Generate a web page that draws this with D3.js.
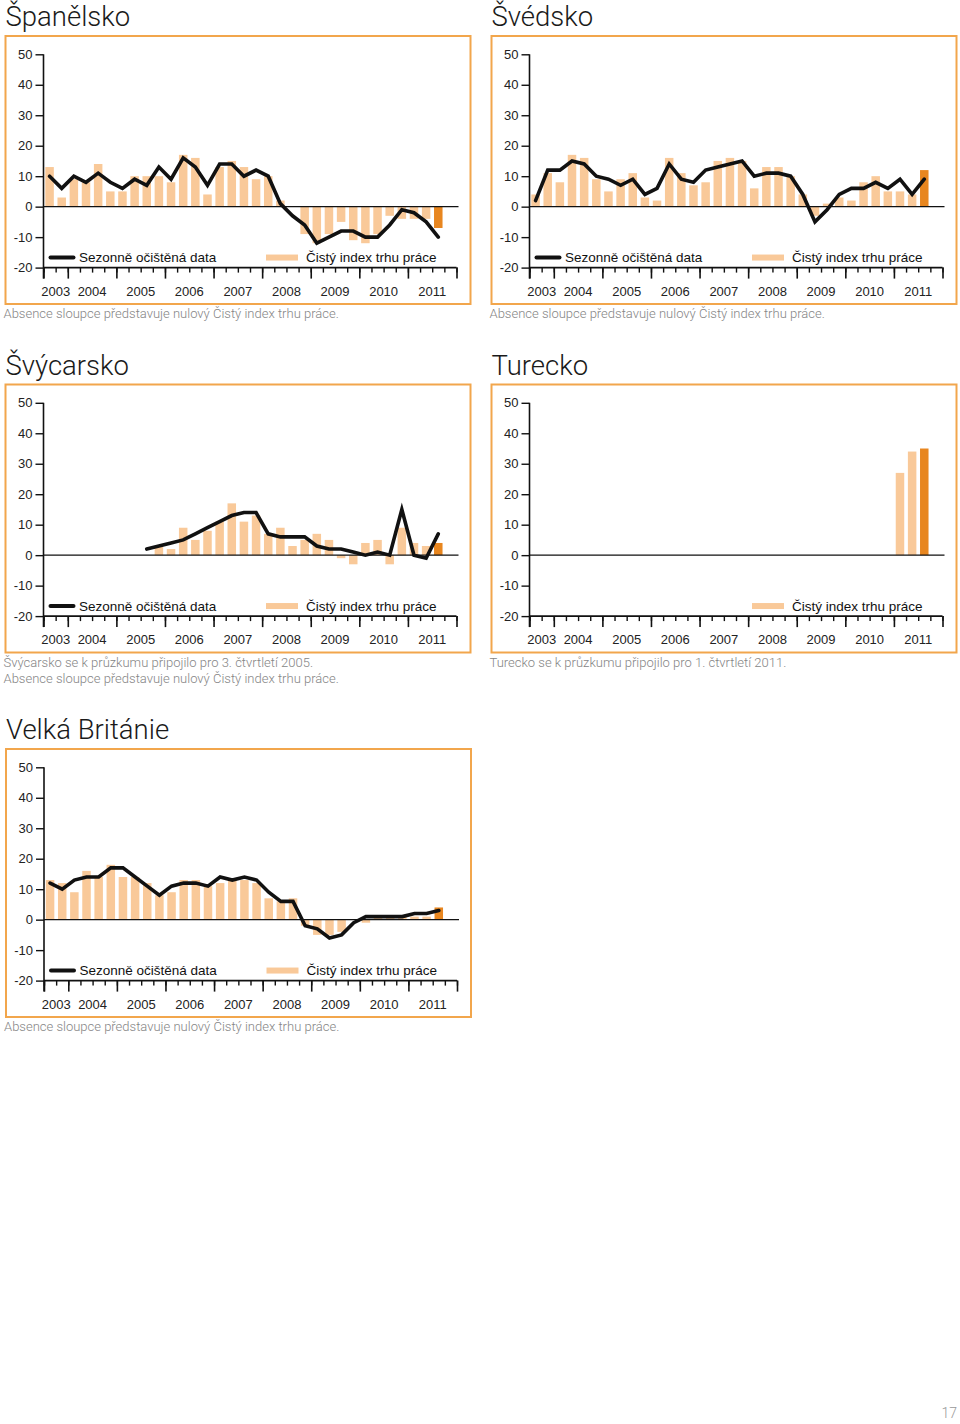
<!DOCTYPE html>
<html>
<head>
<meta charset="utf-8">
<script src="https://cdn.jsdelivr.net/npm/d3@7"></script>
<style>
  html, body { margin: 0; padding: 0; background: #fff; }
  svg { display: block; }
</style>
</head>
<body>
<svg id="chart" width="960" height="1424"></svg>
<script>
// ---------- categories ----------
const quarters = [
  "2003Q3","2003Q4",
  "2004Q1","2004Q2","2004Q3","2004Q4",
  "2005Q1","2005Q2","2005Q3","2005Q4",
  "2006Q1","2006Q2","2006Q3","2006Q4",
  "2007Q1","2007Q2","2007Q3","2007Q4",
  "2008Q1","2008Q2","2008Q3","2008Q4",
  "2009Q1","2009Q2","2009Q3","2009Q4",
  "2010Q1","2010Q2","2010Q3","2010Q4",
  "2011Q1","2011Q2","2011Q3","2011Q4"
];
const years = ["2003","2004","2005","2006","2007","2008","2009","2010","2011"];
const yTicks = [50, 40, 30, 20, 10, 0, -10, -20];

// ---------- series (2003Q3 ... 2011Q3; null = no data) ----------
const spainBars = [13,3,9,8,14,5,5,10,10,10,8,17,16,4,13,15,13,9,10,2,null,-9,-12,-9,-5,-11,-12,-9,-3,-4,-4,-4,-7];
const spainLine = [10,6,10,8,11,8,6,9,7,13,9,16,13,7,14,14,10,12,10,1,-3,-6,-12,-10,-8,-8,-10,-10,-6,-1,-2,-5,-10];

const swedenBars = [4,11,8,17,16,9,5,9,11,3,2,16,11,7,8,15,16,15,6,13,13,10,4,-3,1,3,2,8,10,5,5,4,12];
const swedenLine = [2,12,12,15,14,10,9,7,9,4,6,14,9,8,12,13,14,15,10,11,11,10,4,-5,-1,4,6,6,8,6,9,4,9];

const swissBars = [null,null,null,null,null,null,null,null,null,3,2,9,5,8,11,17,11,13,7,9,3,5,7,5,-1,-3,4,5,-3,9,4,3,4];
const swissLine = [null,null,null,null,null,null,null,null,2,3,4,5,7,9,11,13,14,14,7,6,6,6,3,2,2,1,0,1,0,15,0,-1,7];

const turkeyBars = [null,null,null,null,null,null,null,null,null,null,null,null,null,null,null,null,null,null,null,null,null,null,null,null,null,null,null,null,null,null,27,34,35];
const turkeyLine = [];

const ukBars = [13,12,9,16,14,18,14,14,12,8,9,13,13,11,12,13,13,12,7,6,7,-2,-5,-5,-4,null,-1,1,1,1,1,1,4];
const ukLine = [12,10,13,14,14,17,17,14,11,8,11,12,12,11,14,13,14,13,9,6,6,-2,-3,-6,-5,-1,1,1,1,1,2,2,3];

// ---------- texts ----------
const legendLineLabel = "Sezonně očištěná data";
const legendBarLabel = "Čistý index trhu práce";
const noteZero = "Absence sloupce představuje nulový Čistý index trhu práce.";

const panels = [
  { title: "Španělsko", bars: spainBars, line: spainLine, fx: 5.5, fy: 36, notes: [noteZero] },
  { title: "Švédsko", bars: swedenBars, line: swedenLine, fx: 491.5, fy: 36, notes: [noteZero] },
  { title: "Švýcarsko", bars: swissBars, line: swissLine, fx: 5.5, fy: 384.5,
    notes: ["Švýcarsko se k průzkumu připojilo pro 3. čtvrtletí 2005.", noteZero] },
  { title: "Turecko", bars: turkeyBars, line: turkeyLine, fx: 491.5, fy: 384.5,
    notes: ["Turecko se k průzkumu připojilo pro 1. čtvrtletí 2011."] },
  { title: "Velká Británie", bars: ukBars, line: ukLine, fx: 6, fy: 749, notes: [noteZero] }
];

// ---------- style ----------
const C = {
  frame: "#F2A64C",
  bar: "#F9C999",
  barLast: "#E8861F",
  line: "#111111",
  axis: "#111111",
  text: "#222222",
  note: "#858585"
};
const FRAME_W = 465, FRAME_H = 268;
const AX = 38;            // y-axis offset inside frame
const PW = 413;           // plot width
const Y_TOP = 18.3, Y_BOT = 231.6;
const sansFont = "'Liberation Sans', Arial, Helvetica, sans-serif";
const lightFont = "Roboto, 'Liberation Sans', Arial, sans-serif";

const svg = d3.select("#chart");
svg.append("rect").attr("width", 960).attr("height", 1424).attr("fill", "#fff");

const y = d3.scaleLinear().domain([-20, 50]).range([Y_BOT, Y_TOP]);
const x = d3.scaleBand().domain(quarters).range([0, PW]).paddingInner(0.3).paddingOuter(0.15);
const xi = d3.scaleLinear().domain([0, quarters.length]).range([0, PW]);

// year boundary indices
const yearStart = years.map(yr => quarters.findIndex(q => q.startsWith(yr)));
const yearEnd = years.map((yr, k) => k < years.length - 1 ? yearStart[k + 1] : quarters.length);
const majorTicks = [...yearStart, quarters.length];

function drawPanel(p) {
  // title
  svg.append("text")
    .attr("x", p.fx).attr("y", p.fy - 10)
    .attr("font-family", lightFont).attr("font-weight", 300)
    .attr("font-size", 27.5).attr("fill", "#1a1a1a")
    .text(p.title);

  // frame
  svg.append("rect")
    .attr("x", p.fx).attr("y", p.fy)
    .attr("width", FRAME_W).attr("height", FRAME_H)
    .attr("fill", "none").attr("stroke", C.frame).attr("stroke-width", 2);

  const g = svg.append("g").attr("transform", `translate(${p.fx + AX},${p.fy})`);

  // bars
  const barData = quarters.map((q, i) => ({ q, i, v: p.bars[i] }))
    .filter(d => d.v !== null && d.v !== undefined);
  const lastIdx = d3.max(barData, d => d.i);
  g.append("g").selectAll("rect").data(barData).join("rect")
    .attr("x", d => x(d.q))
    .attr("width", x.bandwidth())
    .attr("y", d => y(Math.max(0, d.v)))
    .attr("height", d => Math.abs(y(d.v) - y(0)))
    .attr("fill", d => d.i === lastIdx ? C.barLast : C.bar);

  // zero line
  g.append("line")
    .attr("x1", 0).attr("x2", PW + 2)
    .attr("y1", y(0)).attr("y2", y(0))
    .attr("stroke", C.axis).attr("stroke-width", 1.3);

  // line series
  const lineData = quarters.map((q, i) => ({ q, v: p.line[i] }))
    .filter(d => d.v !== null && d.v !== undefined);
  if (lineData.length) {
    g.append("path").datum(lineData)
      .attr("fill", "none").attr("stroke", C.line).attr("stroke-width", 3.6)
      .attr("stroke-linejoin", "miter").attr("stroke-linecap", "round")
      .attr("d", d3.line().x(d => x(d.q) + x.bandwidth() / 2).y(d => y(d.v)));
  }

  // y axis
  const ya = g.append("g").call(d3.axisLeft(y).tickValues(yTicks).tickSize(8).tickPadding(3).tickFormat(d => String(d)));
  ya.select(".domain").remove();
  ya.selectAll(".tick line").attr("stroke", C.axis).attr("stroke-width", 1.4);
  ya.selectAll(".tick text").attr("font-family", sansFont).attr("font-size", 13).attr("fill", C.text);
  g.append("line").attr("x1", 0).attr("x2", 0).attr("y1", Y_TOP).attr("y2", Y_BOT + 11)
    .attr("stroke", C.axis).attr("stroke-width", 1.6);

  // x axis
  const xg = g.append("g").attr("transform", `translate(0,${Y_BOT})`);
  xg.append("line").attr("x1", 0).attr("x2", PW).attr("y1", 0).attr("y2", 0)
    .attr("stroke", C.axis).attr("stroke-width", 1.6);
  const minor = xg.append("g").call(d3.axisBottom(xi).tickValues(d3.range(quarters.length + 1)).tickSize(5).tickFormat(""));
  minor.select(".domain").remove();
  minor.selectAll(".tick line").attr("stroke", C.axis).attr("stroke-width", 1.4);
  const major = xg.append("g").call(d3.axisBottom(xi).tickValues(majorTicks).tickSize(11).tickFormat(""));
  major.select(".domain").remove();
  major.selectAll(".tick line").attr("stroke", C.axis).attr("stroke-width", 1.6);
  xg.selectAll("text.year").data(years).join("text")
    .attr("class", "year")
    .attr("x", (d, k) => xi((yearStart[k] + yearEnd[k]) / 2))
    .attr("y", 28)
    .attr("text-anchor", "middle")
    .attr("font-family", sansFont).attr("font-size", 13).attr("fill", C.text)
    .text(d => d);

  // legend
  const ly = y(-16.7);
  if (lineData.length) {
    g.append("line").attr("x1", 7).attr("x2", 30).attr("y1", ly).attr("y2", ly)
      .attr("stroke", C.line).attr("stroke-width", 4).attr("stroke-linecap", "round");
    g.append("text").attr("x", 35.5).attr("y", ly + 4.5)
      .attr("font-family", sansFont).attr("font-size", 13.5).attr("fill", "#111")
      .text(legendLineLabel);
  }
  g.append("rect").attr("x", 222.5).attr("y", ly - 3).attr("width", 32).attr("height", 6)
    .attr("fill", C.bar);
  g.append("text").attr("x", 262.5).attr("y", ly + 4.5)
    .attr("font-family", sansFont).attr("font-size", 13.5).attr("fill", "#111")
    .text(legendBarLabel);

  // notes
  p.notes.forEach((t, k) => {
    svg.append("text")
      .attr("x", p.fx - 2).attr("y", p.fy + FRAME_H + 14 + k * 16.6)
      .attr("font-family", lightFont).attr("font-weight", 300)
      .attr("font-size", 13).attr("fill", C.note)
      .text(t);
  });
}

panels.forEach(drawPanel);

// page number
svg.append("text").attr("x", 957).attr("y", 1418).attr("text-anchor", "end")
  .attr("font-family", lightFont).attr("font-weight", 300)
  .attr("font-size", 14).attr("fill", "#999").text("17");
</script>
</body>
</html>
